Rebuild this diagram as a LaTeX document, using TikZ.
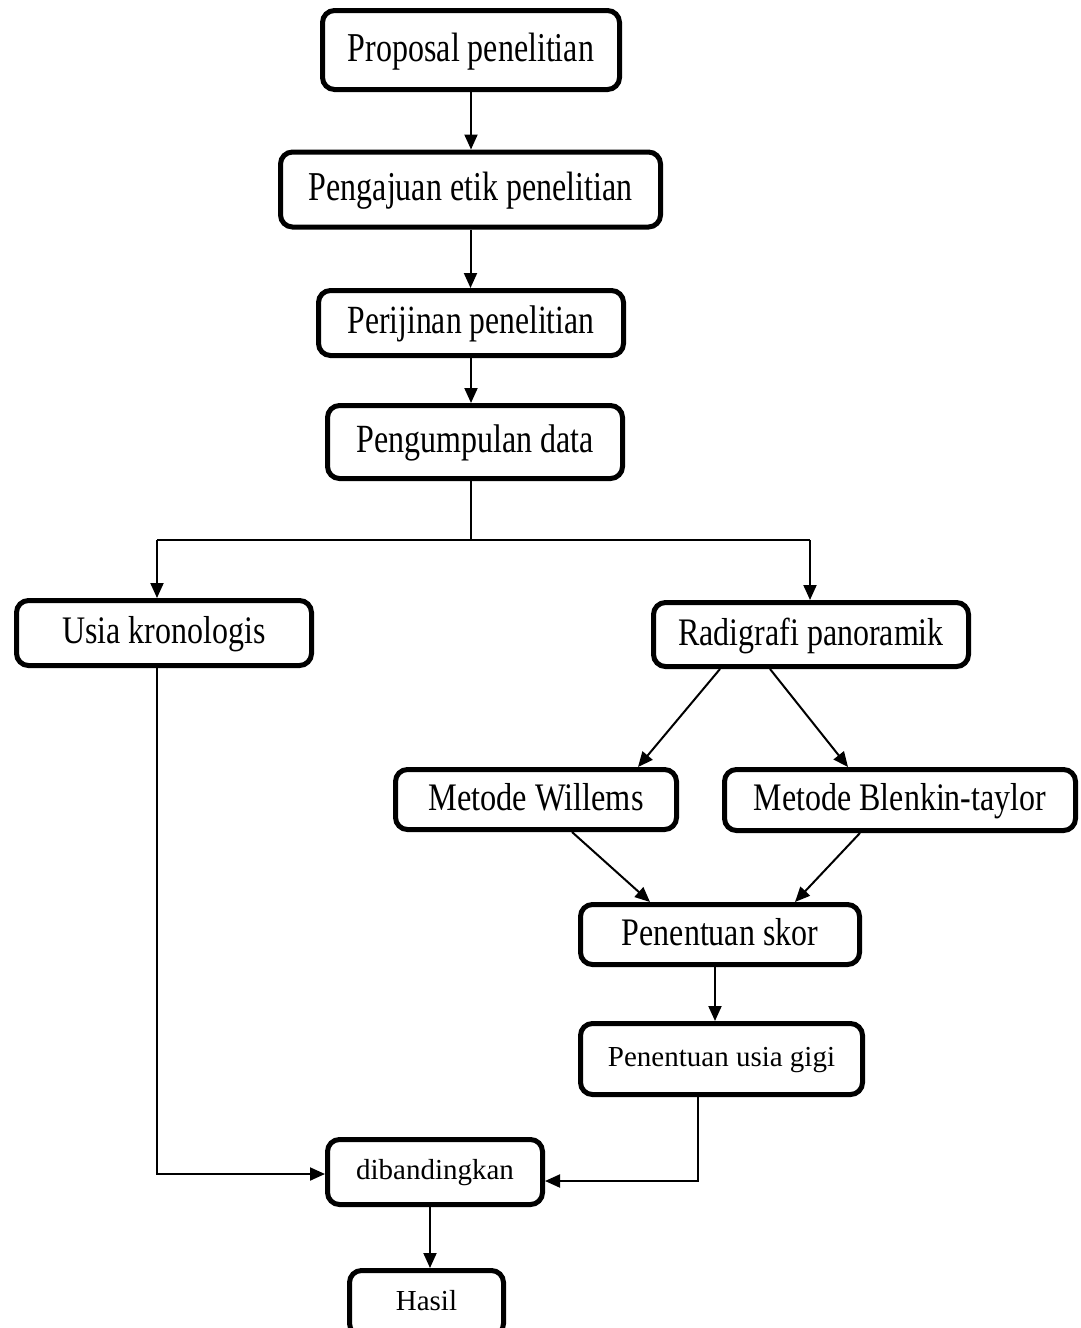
\documentclass[tikz,border=0pt]{standalone}
\usepackage{fontspec}
\setmainfont{Liberation Serif}
\usetikzlibrary{arrows.meta}
\newcommand{\tx}[3]{\scalebox{#2}[1]{\fontsize{#1}{#1}\selectfont\rule[-0.22em]{0pt}{0.98em}#3}}
\begin{document}
\begin{tikzpicture}[x=1pt,y=-1pt,
  box/.style={draw,line width=5pt,rounded corners=12pt,inner sep=0pt,align=center},
  arr/.style={line width=2pt,-{Triangle[length=15pt,width=13pt]}},
  ln/.style={line width=2pt}]
\useasboundingbox (0,0) rectangle (1080,1328);
\clip (0,0) rectangle (1080,1328);
\node[box,minimum width=297pt,minimum height=79pt] (p1) at (471,50) {\tx{41}{0.78}{Proposal penelitian}};
\node[box,minimum width=380pt,minimum height=75pt] (p2) at (470.5,189.5) {\tx{41}{0.78}{Pengajuan etik penelitian}};
\node[box,minimum width=305pt,minimum height=65pt] (p3) at (471,323) {\tx{40}{0.79}{Perijinan penelitian}};
\node[box,minimum width=295pt,minimum height=73pt] (p4) at (475,442) {\tx{40}{0.80}{Pengumpulan data}};
\node[box,minimum width=295pt,minimum height=65pt] (usia) at (164,633) {\tx{39}{0.82}{Usia kronologis}};
\node[box,minimum width=315pt,minimum height=64pt] (radi) at (811,634.5) {\tx{39}{0.82}{Radigrafi panoramik}};
\node[box,minimum width=281pt,minimum height=60pt] (will) at (536,799.5) {\tx{39}{0.83}{Metode Willems}};
\node[box,minimum width=351pt,minimum height=61pt] (blen) at (900,800) {\tx{39}{0.82}{Metode Blenkin-taylor}};
\node[box,minimum width=279pt,minimum height=60pt] (skor) at (720,934.5) {\tx{39}{0.82}{Penentuan skor}};
\node[box,minimum width=282pt,minimum height=71pt] (gigi) at (721.5,1059) {\tx{29}{1}{Penentuan usia gigi}};
\node[box,minimum width=215pt,minimum height=65pt] (dib) at (435,1172) {\tx{29}{1}{dibandingkan}};
\node[box,minimum width=154pt,minimum height=65pt] (hasil) at (426.5,1303) {\tx{29}{1}{Hasil}};
\coordinate (split) at (471,540);
\coordinate (sl) at (157,540);
\coordinate (sr) at (810,540);
\draw[arr] (p1.south) -- (p1.south |- p2.north);
\draw[arr] (p2.south) -- (p2.south |- p3.north);
\draw[arr] (p3.south) -- (p3.south |- p4.north);
\draw[ln] (p3.south |- p4.south) -- (split);
\draw[ln] (sl) -- (sr);
\draw[arr] (sl) -- (sl |- usia.north);
\draw[arr] (sr) -- (sr |- radi.north);
\draw[arr] ([xshift=-91pt]radi.south) -- ([xshift=102pt]will.north);
\draw[arr] ([xshift=-41pt]radi.south) -- ([xshift=-52pt]blen.north);
\draw[arr] ([xshift=36pt]will.south) -- ([xshift=-70pt]skor.north);
\draw[arr] ([xshift=-40pt]blen.south) -- ([xshift=75pt]skor.north);
\draw[arr] ([xshift=-5pt]skor.south) -- ([xshift=-6.5pt]gigi.north);
\draw[arr] ([xshift=-23.5pt]gigi.south) |- ([yshift=-9pt]dib.east);
\draw[arr] ([xshift=-7pt]usia.south) |- ([yshift=-2pt]dib.west);
\draw[arr] ([xshift=-5pt]dib.south) -- ([xshift=3.5pt]hasil.north);
\end{tikzpicture}
\end{document}
